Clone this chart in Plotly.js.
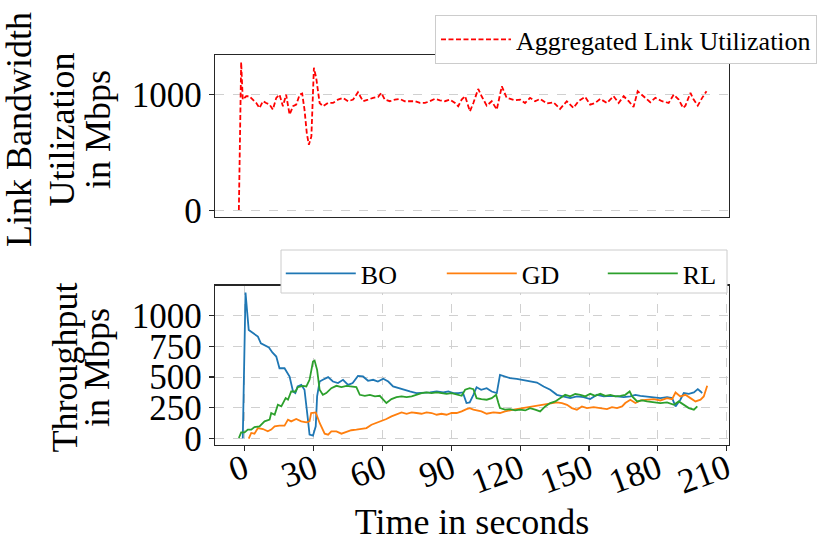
<!DOCTYPE html>
<html>
<head>
<meta charset="utf-8">
<script src="https://cdn.plot.ly/plotly-3.0.1.min.js"></script>
<style>html,body{margin:0;padding:0;background:#fff;}#chart{width:830px;height:555px;}</style>
</head>
<body>
<div id="chart"></div>
<script>
// Aggregated link utilization (top panel)
var tAgg = [-2.6,-1.6,-0.9,0.6,2,3.5,5,6.4,7.9,9.3,10.8,12.2,13.7,15.1,16.6,18,19.5,21,22.4,23.9,25,26,27,27.9,29,30.1,31.1,32.6,34.1,36.2,38.4,40.6,42.8,45,47.2,49.3,51.5,53.7,55.9,58.1,59.5,61,63.2,65.4,67.5,69.7,71.9,74.1,76.3,78.5,80.6,82.8,85,87.2,89.4,91.6,93,94.5,96,98.1,99.6,101.7,103.2,105.4,107.6,109.8,112,114.1,117.8,120,122.1,124.3,126.5,128.7,131.6,134.5,137.4,140.3,143.2,145.4,148.3,150.5,152.7,154.9,157.8,160.7,162.9,165.1,167.3,169.4,171.2,173.8,176.7,178.9,181.8,184.7,186.9,189.1,191,192,194.2,195.6,197.4,199.3,201.2];
var aggUtil = [6,1279,956,985,985,956,927,884,942,927,913,870,971,999,899,999,827,899,913,999,1008,870,668,567,639,1230,1143,927,899,927,927,956,971,942,956,1020,942,956,971,979,1014,956,942,956,962,942,942,942,927,927,942,962,950,942,956,927,899,956,985,855,927,1048,985,904,942,870,1071,971,950,956,927,971,942,962,922,933,876,942,884,942,979,913,927,962,927,985,927,985,942,893,1028,985,933,971,942,927,999,956,884,904,1014,956,904,971,1028];

// Throughput per method (bottom panel)
var tBO = [-0.9,0.3,1.7,3.5,5.7,7,8.6,10.5,12,13.7,15.1,17.3,19.5,21,22,23,24.6,26,27.5,28.2,29.7,30.9,31.5,32.6,34,36.3,38.4,40.6,42.8,45,47,49.3,51.5,53.7,55.9,58,60.3,62.5,64.6,66.8,69,71.9,74.8,77.7,80.7,83.6,86.5,88.7,90.9,93,95,96.6,98,99.6,101,103,105.4,107.6,109.8,111.2,113.4,115.6,118.5,121.4,124.3,127.3,130.2,133.1,136,138.9,141.8,144.7,147.6,150.5,153.5,156.4,159.3,162.2,165.1,168,170.2,172.4,175.3,178.2,181.1,184,186.2,187.7,189.8,191.3,193.5,195.7,197.4,198.6,199.3];
var bo = [0,1188,883,856,829,775,761,740,700,667,572,572,505,383,370,424,437,397,154,32,24,100,343,464,478,500,464,451,478,437,451,510,505,470,478,464,486,464,424,410,397,383,370,370,375,383,375,383,370,370,375,289,294,356,418,397,410,383,370,518,505,491,486,478,464,456,424,397,356,343,329,343,337,321,356,343,348,343,337,343,356,348,343,337,329,337,329,262,316,370,364,375,402,383,370];

var tGD = [1.7,2.8,4.2,5.7,7.9,10,11.5,13,15.1,17.3,18.8,20.2,22.4,24.6,26.8,28.2,28.9,30.9,32.6,34.8,36.3,37.7,39.9,42.1,44.3,46.4,48.6,50.8,53,55.2,57.4,59.6,61.7,63.9,66.1,68.3,70.5,72.7,74.8,77,79.2,81.4,83.6,85.7,87.9,90.1,92.3,94.5,96.6,98,99.6,101,103.1,105.4,108.3,111.2,113.4,117.1,121.4,125.8,130.2,133.1,136,138.2,140.4,142.5,144.7,146.9,149.1,152,155,157.8,160,162.2,164.4,165.8,168,170.2,172.4,175.3,178.2,181.1,184,186.2,187.7,189.8,192,194.2,196.4,198.6,200,201.5];
var gd = [0,46,40,86,78,59,73,100,105,105,154,140,159,140,132,140,208,213,127,40,32,59,59,40,54,68,73,78,86,113,127,140,159,181,194,213,202,213,208,202,213,208,194,202,194,208,208,221,240,248,235,229,221,202,213,208,221,235,248,262,275,289,294,289,275,248,235,262,248,256,248,240,256,248,262,289,316,289,310,316,321,310,329,321,375,343,356,329,302,316,343,429];

var tRL = [-2.6,-1.6,-0.1,1.3,2.8,4.2,6.4,8.6,10.8,11.5,13,14.4,15.9,17.8,18.8,20.2,22.1,23.1,25.3,26.8,28.2,29.7,30.4,31.5,32.6,34,35.5,37.7,39.9,42.1,44.3,46.4,48.6,50.1,52.3,54.5,56.7,58.8,60.3,61.7,63.9,66.1,68.3,70.5,72.7,74.8,77,79.2,81.4,83.6,85.7,87.9,90.1,92.3,94.5,96,98,99.6,101,103.1,105.4,107.6,109.5,110.5,111.2,113.4,115.6,117.8,120,122.2,124.3,126.5,128.7,130.9,133.1,135.3,137.4,139.6,141.8,144,146.2,148.4,150.5,152.7,154.9,157.1,159.3,161.5,163.7,165.8,167.7,168.8,171,173.1,175.3,178.2,181.1,184,187,189.1,191.3,193.5,195.7,197.2];
var rl = [5,51,51,73,73,94,100,140,154,208,194,275,262,329,316,383,383,418,429,424,478,626,634,559,397,356,370,410,429,418,429,424,418,356,348,356,343,348,316,289,321,337,343,337,343,356,370,375,370,375,370,364,370,356,348,397,410,402,329,321,316,329,356,289,248,235,240,229,235,229,248,235,221,262,289,302,329,356,343,364,356,343,364,348,364,348,356,343,348,356,383,343,302,310,302,294,289,294,275,302,275,248,235,262];

var xTicks = [0,30,60,90,120,150,180,210];
var topTicks = [0,1000];
var bottomTicks = [0,250,500,750,1000];
var topTitleLines = ['Link Bandwidth', 'Utilization', 'in Mbps'];
var bottomTitleLines = ['Throughput', 'in Mbps'];

var FONT = "'Liberation Serif', 'Times New Roman', Times, serif";
var GRID = '#d0d0d0';
var LINE = '#262626';

var traces = [
  {x: tAgg, y: aggUtil, type: 'scatter', mode: 'lines', name: 'Aggregated Link Utilization',
   line: {color: '#ff0000', width: 1.8, dash: '5px,2.5px'}, xaxis: 'x', yaxis: 'y', legend: 'legend'},
  {x: tBO, y: bo, type: 'scatter', mode: 'lines', name: 'BO',
   line: {color: '#1f77b4', width: 1.8}, xaxis: 'x2', yaxis: 'y2', legend: 'legend2'},
  {x: tGD, y: gd, type: 'scatter', mode: 'lines', name: 'GD',
   line: {color: '#ff7f0e', width: 1.8}, xaxis: 'x2', yaxis: 'y2', legend: 'legend2'},
  {x: tRL, y: rl, type: 'scatter', mode: 'lines', name: 'RL',
   line: {color: '#2ca02c', width: 1.8}, xaxis: 'x2', yaxis: 'y2', legend: 'legend2'}
];

// y-axis titles as stacked rotated lines (matplotlib-like tight line spacing)
var PLOT_L = 215, PLOT_W = 514, PLOT_B = 445, PLOT_H = 390;
function px2x(px) { return (px - PLOT_L) / PLOT_W; }
function px2y(py) { return (PLOT_B - py) / PLOT_H; }
var topCols = [19, 61.5, 98];
var bottomCols = [64.5, 97];
var annotations = [];
topTitleLines.forEach(function (s, i) {
  annotations.push({text: s, xref: 'paper', yref: 'paper', x: px2x(topCols[i]), y: px2y(130),
    xanchor: 'center', yanchor: 'middle', textangle: -90, showarrow: false,
    font: {family: FONT, size: 36, color: '#000'}});
});
bottomTitleLines.forEach(function (s, i) {
  annotations.push({text: s, xref: 'paper', yref: 'paper', x: px2x(bottomCols[i]), y: px2y(368),
    xanchor: 'center', yanchor: 'middle', textangle: -90, showarrow: false,
    font: {family: FONT, size: 36, color: '#000'}});
});

// frame of the bottom (horizontal) legend, sized like the reference box
var shapes = [{
  type: 'rect', xref: 'paper', yref: 'paper', layer: 'above',
  x0: px2x(281), x1: px2x(727), y0: px2y(293), y1: px2y(250),
  fillcolor: '#ffffff', line: {color: '#cccccc', width: 1}
}];

var layout = {
  width: 830, height: 555,
  margin: {l: 215, r: 101, t: 55, b: 110, pad: 0},
  paper_bgcolor: '#fff', plot_bgcolor: '#fff',
  font: {family: FONT, size: 35, color: '#000'},
  showlegend: true,
  annotations: annotations,
  shapes: shapes,
  xaxis: {
    anchor: 'y', domain: [0, 1], range: [-13, 211], matches: 'x2',
    showticklabels: false, ticks: '', showgrid: false, zeroline: false,
    showline: true, linecolor: LINE, linewidth: 1.2, mirror: true
  },
  yaxis: {
    anchor: 'x', domain: [0.5854, 1], range: [-52, 1340],
    tickvals: topTicks, ticktext: topTicks.map(String),
    ticks: 'outside', ticklen: 5, tickwidth: 1.2, tickcolor: LINE,
    tickfont: {family: FONT, size: 35},
    showgrid: true, gridcolor: GRID, gridwidth: 1, griddash: 'dash', zeroline: false,
    showline: true, linecolor: LINE, linewidth: 1.2, mirror: true
  },
  xaxis2: {
    anchor: 'y2', domain: [0, 1], range: [-13, 211],
    tickvals: xTicks, ticktext: xTicks.map(String), tickangle: -20,
    ticks: 'outside', ticklen: 5, tickwidth: 1.2, tickcolor: LINE,
    tickfont: {family: FONT, size: 35}, ticklabelstandoff: -16,
    showgrid: true, gridcolor: GRID, gridwidth: 1, griddash: 'dash', zeroline: false,
    showline: true, linecolor: LINE, linewidth: 1.2, mirror: true,
    title: {text: 'Time in seconds', font: {family: FONT, size: 36}, standoff: 8}
  },
  yaxis2: {
    anchor: 'x2', domain: [0, 0.4085], range: [-52, 1243],
    tickvals: bottomTicks, ticktext: bottomTicks.map(String),
    ticks: 'outside', ticklen: 5, tickwidth: 1.2, tickcolor: LINE,
    tickfont: {family: FONT, size: 35},
    showgrid: true, gridcolor: GRID, gridwidth: 1, griddash: 'dash', zeroline: false,
    showline: true, linecolor: LINE, linewidth: 1.2, mirror: true
  },
  legend: {
    x: 0.428, y: 1.1026, xanchor: 'left', yanchor: 'top',
    bgcolor: '#fff', bordercolor: '#cccccc', borderwidth: 1,
    font: {family: FONT, size: 26}, itemwidth: 70
  },
  legend2: {
    x: 0.128, y: 0.5, xanchor: 'left', yanchor: 'top', orientation: 'h',
    bgcolor: 'rgba(0,0,0,0)', borderwidth: 0,
    font: {family: FONT, size: 26}, itemwidth: 70,
    entrywidth: 76, entrywidthmode: 'pixels'
  }
};

Plotly.newPlot('chart', traces, layout, {displayModeBar: false, staticPlot: true});
</script>
</body>
</html>
